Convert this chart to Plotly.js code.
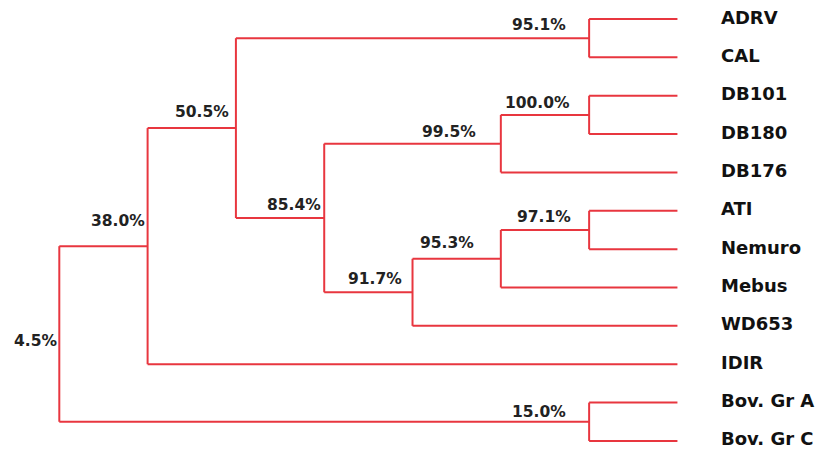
<!DOCTYPE html>
<html>
<head>
<meta charset="utf-8">
<script src="https://cdn.plot.ly/plotly-3.0.1.min.js"></script>
<style>html,body{margin:0;padding:0;background:#fff;}#chart{width:825px;height:449px;}</style>
</head>
<body>
<div id="chart"></div>
<script>
// Leaves (top to bottom)
const leaves = ['ADRV','CAL','DB101','DB180','DB176','ATI','Nemuro','Mebus','WD653','IDIR','Bov. Gr A','Bov. Gr C'];
// Internal nodes: children refer to leaf index (number) or node name (string)
const nodeNames    = ['n1','n2','n3','n4','n5','n6','n7','n8','n9','n10','root'];
const nodeChildren = [[0,1],[2,3],['n2',4],[5,6],['n4',7],['n5',8],['n3','n6'],['n1','n7'],['n8',9],[10,11],['n9','n10']];
const nodeSimilarity = ['95.1%','100.0%','99.5%','97.1%','95.3%','91.7%','85.4%','50.5%','38.0%','15.0%','4.5%'];

// label placement tweaks (style only, px)
const labelDx = [-21,-17,-23,-16,-25,-9,-1,-5,-1,-21,0];
const labelDy = [13,12,12,13,16,13,13,16,25,10,-7];

const LINE = '#e8363f';

const idx = {}; nodeNames.forEach((n,i)=>idx[n]=i);
// rank of node = 1 + max rank of children (leaves = 0)
const rank = {};
function rankOf(c){
  if (typeof c === 'number') return 0;
  if (rank[c] !== undefined) return rank[c];
  const ch = nodeChildren[idx[c]];
  rank[c] = 1 + Math.max(rankOf(ch[0]), rankOf(ch[1]));
  return rank[c];
}
const rootRank = rankOf('root');
function xOf(c){ return rootRank - rankOf(c); }

const ypos = {};
function yOf(c){
  if (typeof c === 'number') return c;
  if (ypos[c] !== undefined) return ypos[c];
  const ch = nodeChildren[idx[c]];
  ypos[c] = (yOf(ch[0]) + yOf(ch[1]))/2;
  return ypos[c];
}

const xs = [], ys = [];
nodeNames.forEach(n => {
  const x0 = xOf(n);
  const ch = nodeChildren[idx[n]];
  const y0 = yOf(ch[0]), y1 = yOf(ch[1]);
  xs.push(x0, x0, null); ys.push(y0, y1, null);
  ch.forEach(c => { xs.push(x0, xOf(c), null); ys.push(yOf(c), yOf(c), null); });
});

const annotations = [];
nodeNames.forEach((n,i) => {
  annotations.push({
    x: xOf(n), y: yOf(n), xref:'x', yref:'y',
    text: '<b>'+nodeSimilarity[i]+'</b>', showarrow:false,
    xanchor:'right', yanchor:'middle',
    xshift: labelDx[i], yshift: labelDy[i],
    font:{family:'DejaVu Sans', size:15.5, color:'#222'}
  });
});
leaves.forEach((l,i) => {
  annotations.push({
    x: xOf(i), y: i, xref:'x', yref:'y',
    text: '<b>'+l+'</b>', showarrow:false,
    xanchor:'left', yanchor:'middle', xshift: 43, yshift: 2,
    borderpad: 0,
    font:{family:'DejaVu Sans', size:18, color:'#111'}
  });
});

const trace = {x: xs, y: ys, mode:'lines', type:'scatter',
  line:{color:LINE, width:2}, hoverinfo:'skip', showlegend:false};

const layout = {
  width:825, height:449,
  margin:{l:0,r:0,t:0,b:0},
  paper_bgcolor:'#fff', plot_bgcolor:'#fff',
  xaxis:{range:[-0.6715, 8.671], visible:false, fixedrange:true},
  yaxis:{range:[11.21, -0.4953], visible:false, fixedrange:true},
  annotations: annotations,
  showlegend:false
};
Plotly.newPlot('chart', [trace], layout, {displayModeBar:false, staticPlot:true});
</script>
</body>
</html>
